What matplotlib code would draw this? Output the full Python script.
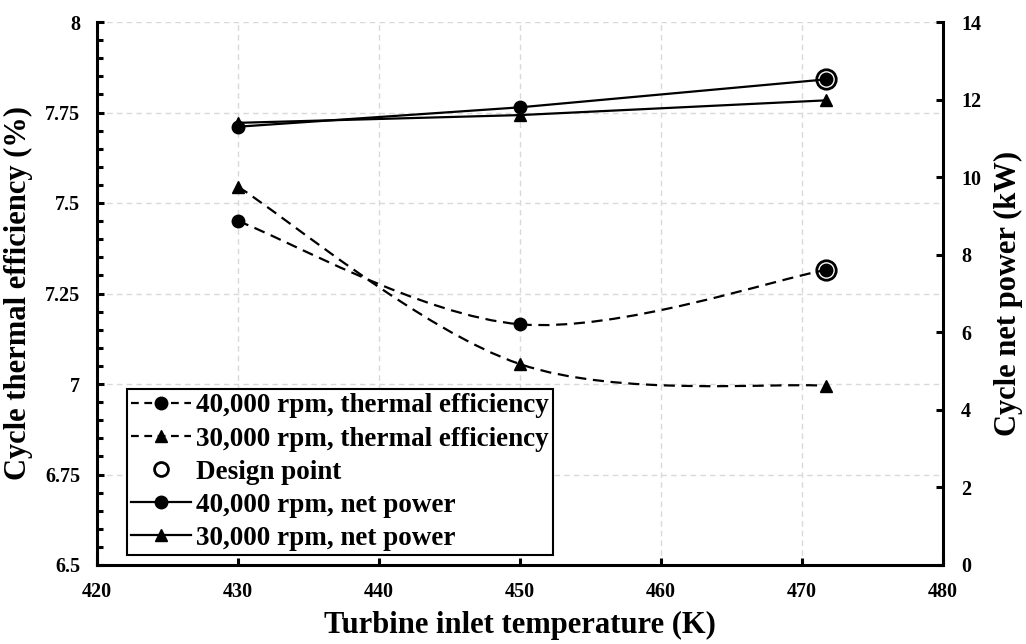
import matplotlib
matplotlib.use("Agg")
import matplotlib.pyplot as plt
import numpy as np
from matplotlib.path import Path
from matplotlib.patches import PathPatch
from matplotlib.lines import Line2D
from matplotlib.ticker import MultipleLocator, FuncFormatter

# ---- data ----
temperature = [430, 450, 471.7]
eff_40k = [7.45, 7.165, 7.315]
eff_30k = [7.545, 7.055, 6.995]
power_40k = [11.3, 11.8, 12.52]
power_30k = [11.4, 11.6, 11.98]
design_temp = [471.7]
design_eff = [7.315]
design_power = [12.52]

labels = ["40,000 rpm, thermal efficiency", "30,000 rpm, thermal efficiency",
          "Design point", "40,000 rpm, net power", "30,000 rpm, net power"]

plt.rcParams['font.family'] = ['Liberation Serif', 'DejaVu Serif']
plt.rcParams['font.weight'] = 'bold'
plt.rcParams['axes.labelweight'] = 'bold'

fig = plt.figure(figsize=(10.26, 6.44), dpi=100)
ax = fig.add_axes([97/1026, 1-565/644, (943-97)/1026, (565-22)/644])
ax2 = ax.twinx()


def smooth_path(xs, ys):
    """Excel-style smoothed line through the points (cubic Bezier segments)."""
    pts = np.column_stack([xs, ys]).astype(float)
    n = len(pts)
    verts = [pts[0]]
    codes = [Path.MOVETO]
    for i in range(n - 1):
        p_prev = pts[i - 1] if i > 0 else pts[i]
        p_next2 = pts[i + 2] if i + 2 < n else pts[i + 1]
        c1 = pts[i] + (pts[i + 1] - p_prev) / 6.0
        c2 = pts[i + 1] - (p_next2 - pts[i]) / 6.0
        verts += [c1, c2, pts[i + 1]]
        codes += [Path.CURVE4] * 3
    return Path(verts, codes)


lw = 1.6
dash = (0, (5, 3))
ms = 9

# efficiency (left axis), dashed smooth
for ys, mk in [(eff_40k, 'o'), (eff_30k, '^')]:
    ax.add_patch(PathPatch(smooth_path(temperature, ys), fill=False, edgecolor='black',
                           linewidth=lw, linestyle=dash, zorder=3))
    ax.plot(temperature, ys, linestyle='none', marker=mk, color='black', markersize=ms, zorder=4)
ax.plot(design_temp, design_eff, linestyle='none', marker='o', markersize=14,
        markerfacecolor='none', markeredgecolor='black', markeredgewidth=2, zorder=5)

# net power (right axis), solid
ax2.plot(temperature, power_40k, color='black', linewidth=lw, marker='o', markersize=ms, zorder=3)
ax2.plot(temperature, power_30k, color='black', linewidth=lw, marker='^', markersize=ms, zorder=3)
ax2.plot(design_temp, design_power, linestyle='none', marker='o', markersize=14,
         markerfacecolor='none', markeredgecolor='black', markeredgewidth=2, zorder=5)

# axes limits / ticks
ax.set_xlim(420, 480)
ax.set_ylim(6.5, 8)
ax2.set_ylim(0, 14)
ax.xaxis.set_major_locator(MultipleLocator(10))
ax.yaxis.set_major_locator(MultipleLocator(0.25))
ax.yaxis.set_minor_locator(MultipleLocator(0.05))
ax.yaxis.set_major_formatter(FuncFormatter(lambda v, p: f"{v:g}"))
ax2.yaxis.set_major_locator(MultipleLocator(2))
ax2.yaxis.set_major_formatter(FuncFormatter(lambda v, p: f"{v:g}"))

for a in (ax, ax2):
    a.spines['top'].set_visible(False)
    for s in ('left', 'right', 'bottom'):
        a.spines[s].set_linewidth(2.2)
ax.spines['right'].set_visible(False)
ax2.spines['left'].set_visible(False)
ax2.spines['bottom'].set_visible(False)

ax.tick_params(axis='both', which='major', direction='in', length=5, width=2.2,
               labelsize=14.5, pad=12)
ax.tick_params(axis='y', which='minor', direction='in', length=4, width=2.2)
ax2.tick_params(axis='y', which='major', direction='in', length=5, width=2.2,
                labelsize=14.5, pad=13)

ax.grid(True, which='major', linestyle=(0, (4, 3)), color='#d9d9d9', linewidth=1)
ax.set_axisbelow(True)

ax.set_xlabel("Turbine inlet temperature (K)", fontsize=22, labelpad=7)
ax.set_ylabel("Cycle thermal efficiency (%)", fontsize=22, labelpad=9)
ax2.set_ylabel("Cycle net power (kW)", fontsize=22, labelpad=9)

hdash = (0, (3.5, 2.5))
handles = [
    Line2D([], [], color='black', linestyle=hdash, linewidth=lw, marker='o', markersize=ms),
    Line2D([], [], color='black', linestyle=hdash, linewidth=lw, marker='^', markersize=ms),
    Line2D([], [], color='black', linestyle='none', marker='o', markersize=10,
           markerfacecolor='none', markeredgewidth=2),
    Line2D([], [], color='black', linewidth=lw, marker='o', markersize=ms),
    Line2D([], [], color='black', linewidth=lw, marker='^', markersize=ms),
]
leg = ax2.legend(handles, labels, loc='lower left', bbox_to_anchor=(30/846, 10/543),
                 fontsize=19.5, frameon=True, fancybox=False, edgecolor='black',
                 framealpha=1, handlelength=2.2, handletextpad=0.2, labelspacing=0.3,
                 borderpad=0.15, borderaxespad=0)
leg.get_frame().set_linewidth(1.5)

fig.savefig("out.png", dpi=100)
